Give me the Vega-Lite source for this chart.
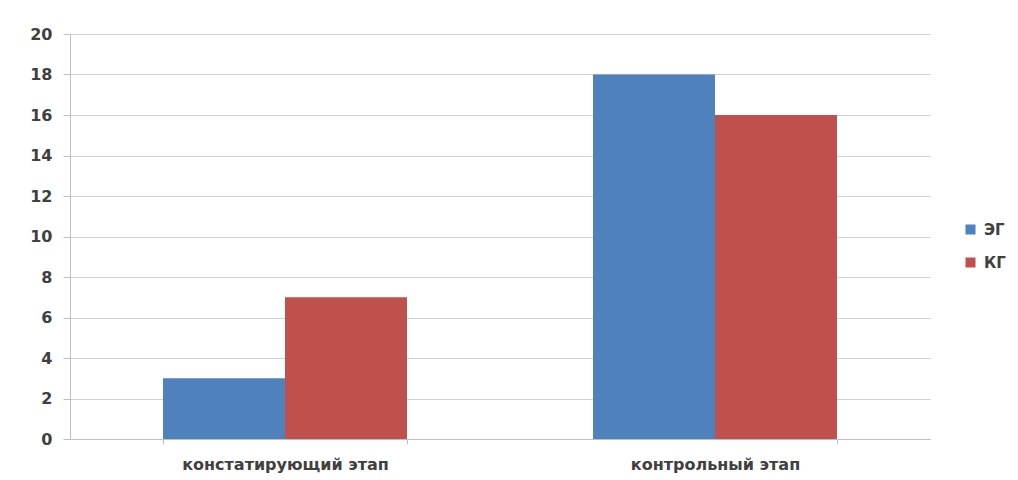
{
  "$schema": "https://vega.github.io/schema/vega-lite/v6.json",
  "autosize": {"type": "none"},
  "width": 860,
  "height": 405,
  "padding": {"left": 70, "top": 34, "right": 88, "bottom": 41},
  "background": "white",
  "data": {
    "values": [
      {"stage": "констатирующий этап", "group": "ЭГ", "value": 3},
      {"stage": "констатирующий этап", "group": "КГ", "value": 7},
      {"stage": "контрольный этап", "group": "ЭГ", "value": 18},
      {"stage": "контрольный этап", "group": "КГ", "value": 16}
    ]
  },
  "mark": {"type": "bar"},
  "encoding": {
    "x": {
      "field": "stage",
      "type": "nominal",
      "sort": ["констатирующий этап", "контрольный этап"],
      "scale": {"paddingInner": 0.4326, "paddingOuter": 0.2163},
      "axis": {
        "title": null,
        "labelAngle": 0,
        "labelLimit": 0,
        "tickBand": "extent",
        "tickSize": 5,
        "tickColor": "#bfbfbf",
        "domainColor": "#bfbfbf",
        "labelPadding": 12,
        "labelFontSize": 16,
        "labelFont": "DejaVu Sans",
        "labelFontWeight": "bold",
        "labelColor": "#404040",
        "grid": false
      }
    },
    "xOffset": {
      "field": "group",
      "type": "nominal",
      "sort": ["ЭГ", "КГ"],
      "scale": {"paddingInner": 0, "paddingOuter": 0}
    },
    "y": {
      "field": "value",
      "type": "quantitative",
      "scale": {"domain": [0, 20], "nice": false},
      "axis": {
        "title": null,
        "values": [0, 2, 4, 6, 8, 10, 12, 14, 16, 18, 20],
        "tickSize": 7,
        "tickColor": "#bfbfbf",
        "domainColor": "#bfbfbf",
        "gridColor": "#d0d0d0",
        "labelPadding": 11,
        "labelFontSize": 16,
        "labelFont": "DejaVu Sans",
        "labelFontWeight": "bold",
        "labelColor": "#404040"
      }
    },
    "color": {
      "field": "group",
      "type": "nominal",
      "sort": ["ЭГ", "КГ"],
      "scale": {"domain": ["ЭГ", "КГ"], "range": ["#4f81bd", "#c0504d"]},
      "legend": {
        "title": null,
        "orient": "none",
        "legendX": 893,
        "legendY": 188,
        "symbolType": "square",
        "symbolSize": 100,
        "symbolStrokeWidth": 0,
        "labelFontSize": 15,
        "labelFont": "DejaVu Sans",
        "labelFontWeight": "bold",
        "labelColor": "#404040",
        "labelOffset": 6,
        "rowPadding": 17
      }
    }
  },
  "config": {
    "view": {"stroke": null}
  }
}
